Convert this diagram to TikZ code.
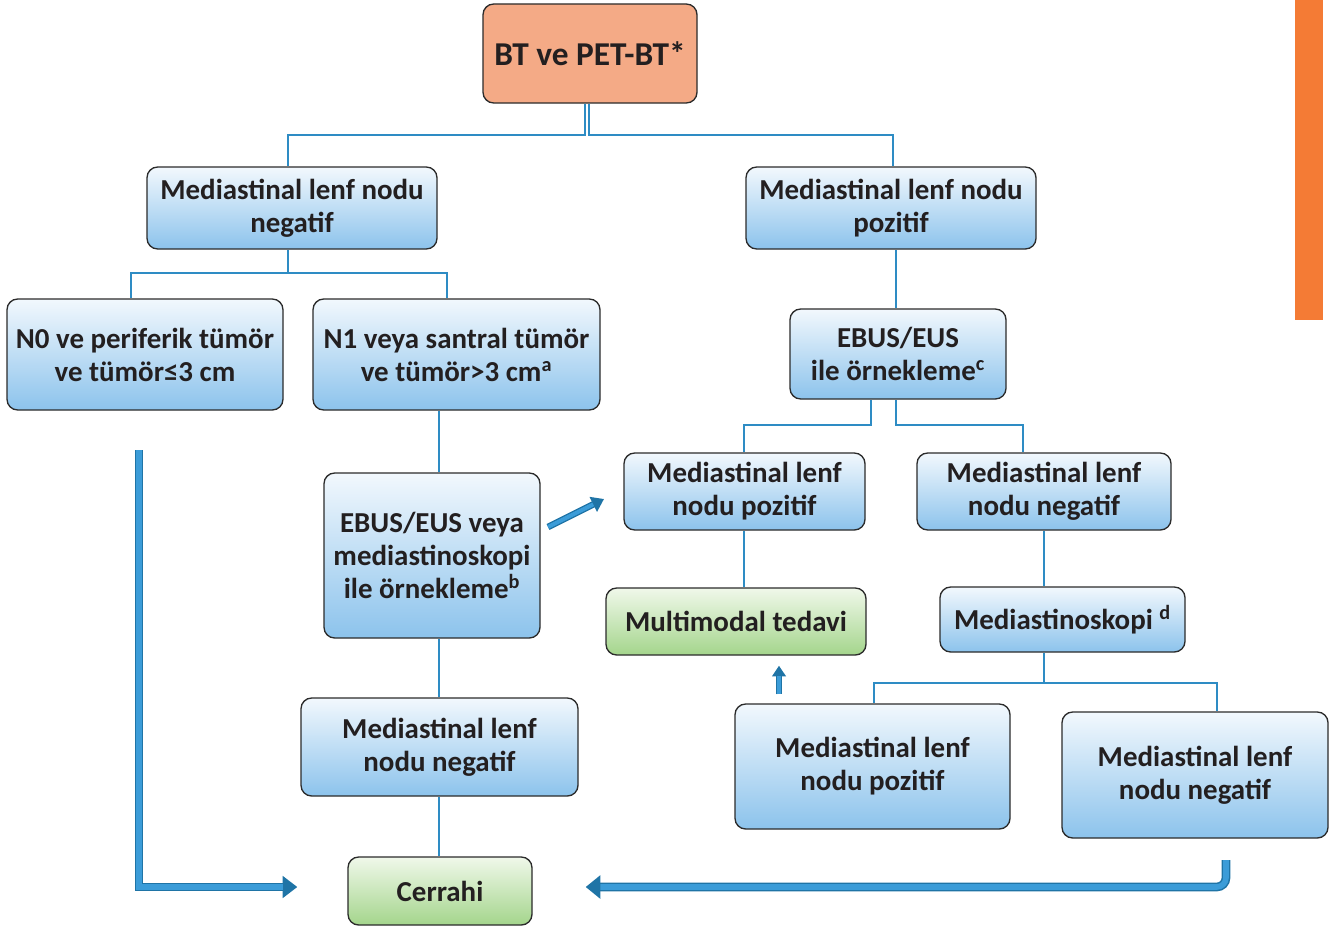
\documentclass[tikz,border=0pt]{standalone}
\usepackage{fontspec}
\setmainfont{Carlito}
\usetikzlibrary{arrows.meta,calc}
\definecolor{boxline}{HTML}{2B2B2B}
\definecolor{bluetop}{HTML}{F2F8FD}
\definecolor{bluebot}{HTML}{8CC3EC}
\definecolor{greentop}{HTML}{F0F8EA}
\definecolor{greenbot}{HTML}{A4D58C}
\definecolor{peach}{HTML}{F4AA86}
\definecolor{linkblue}{HTML}{2E8CC4}
\definecolor{fatdark}{HTML}{1F74A6}
\definecolor{fatlight}{HTML}{3B9CD8}
\definecolor{barorange}{HTML}{F47B35}
\definecolor{txt}{HTML}{231F20}
\tikzset{
  sz/.style 2 args={minimum width=#1*0.75pt, minimum height=#2*0.75pt},
  base/.style={draw=boxline, line width=1pt, rounded corners=8pt, inner sep=0pt,
    align=center, text=txt, font=\fontsize{21.7}{24.75}\selectfont\bfseries},
  bluebox/.style={base, top color=bluetop, bottom color=bluebot},
  greenbox/.style={base, top color=greentop, bottom color=greenbot},
  peachbox/.style={base, fill=peach, font=\fontsize{25}{28}\selectfont\bfseries},
  conn/.style={draw=linkblue, line width=1.5pt},
  fatinner/.style 2 args={draw=fatlight, line width=#1, -, shorten >=#2},
  fat/.style n args={4}{draw=fatdark, line width=#1, -{Triangle[width=#2,length=#3]},
    postaction={fatinner={#4}{#3}}},
}
\begin{document}
\begin{tikzpicture}[x=0.75pt,y=-0.75pt]
\useasboundingbox (0,0) rectangle (1338,931);

% side bar
\fill[barorange] (1295,0) rectangle (1323,320);

% boxes
\node[peachbox, sz={214}{99}] (top) at (590,53.5) {BT ve PET-BT*};
\node[bluebox, sz={290}{82}] (negL) at (292,208) {Mediastinal lenf nodu\\negatif};
\node[bluebox, sz={290}{82}] (posR) at (891,208) {Mediastinal lenf nodu\\pozitif};
\node[bluebox, sz={276}{111}] (n0) at (145,354.5) {N0 ve periferik tümör\\ve tümör≤3 cm};
\node[bluebox, sz={287}{111}] (n1) at (456.5,354.5) {N1 veya santral tümör\\ve tümör>3 cm\textsuperscript{a}};
\node[bluebox, sz={216}{165}] (ebusL) at (432,555.5) {EBUS/EUS veya\\mediastinoskopi\\ile örnekleme\textsuperscript{b}};
\node[bluebox, sz={277}{98}] (negL2) at (439.5,747) {Mediastinal lenf\\nodu negatif};
\node[greenbox, sz={184}{68}] (cerrahi) at (440,891) {Cerrahi};
\node[bluebox, sz={216}{90}] (ebusR) at (898,354) {EBUS/EUS\\ile örnekleme\textsuperscript{c}};
\node[bluebox, sz={241}{77}] (posM) at (744.5,491.5) {Mediastinal lenf\\nodu pozitif};
\node[bluebox, sz={254}{77}] (negM) at (1044,491.5) {Mediastinal lenf\\nodu negatif};
\node[greenbox, sz={260}{67}] (multi) at (736,621.5) {Multimodal tedavi};
\node[bluebox, sz={245}{65}] (medk) at (1062.5,619.5) {Mediastinoskopi \textsuperscript{d}};
\node[bluebox, sz={275}{125}] (posB) at (872.5,766.5) {Mediastinal lenf\\nodu pozitif};
\node[bluebox, sz={266}{126}] (negB) at (1195,775) {Mediastinal lenf\\nodu negatif};

% thin connectors
\draw[conn] ($(top.south)+(-5,0)$) -- ++(0,31) -| ($(negL.north)+(-4,0)$);
\draw[conn] ($(top.south)+(-1,0)$) -- ++(0,31) -| ($(posR.north)+(2,0)$);
\draw[conn] ($(negL.south)+(-4,0)$) -- ++(0,23) -| ($(n0.north)+(-14,0)$);
\draw[conn] ($(negL.south)+(-4,0)$) -- ++(0,23) -| ($(n1.north)+(-9.5,0)$);
\draw[conn] ($(n1.south)+(-17.5,0)$) -- ($(ebusL.north)+(7,0)$);
\draw[conn] ($(ebusL.south)+(7,0)$) -- ($(negL2.north)+(-0.5,0)$);
\draw[conn] ($(negL2.south)+(-0.5,0)$) -- ($(cerrahi.north)+(-1,0)$);
\draw[conn] ($(posR.south)+(5,0)$) -- ($(ebusR.north)+(-2,0)$);
\draw[conn] ($(ebusR.south)+(-27,0)$) -- ++(0,25) -| ($(posM.north)+(-0.5,0)$);
\draw[conn] ($(ebusR.south)+(-2,0)$) -- ++(0,25) -| ($(negM.north)+(-21,0)$);
\draw[conn] ($(posM.south)+(-0.5,0)$) -- ($(multi.north)+(8,0)$);
\draw[conn] (negM.south) -- ($(medk.north)+(-18.5,0)$);
\draw[conn] ($(medk.south)+(-18.5,0)$) -- ++(0,30) -| ($(posB.north)+(1.5,0)$);
\draw[conn] ($(medk.south)+(-18.5,0)$) -- ++(0,30) -| ($(negB.north)+(22,0)$);

% block arrows
\coordinate (leftstart) at (139,450);
\draw[fat={6.5pt}{16pt}{11pt}{4.2pt}] (leftstart) |- ($(cerrahi.west)+(-50,-4)$);
\coordinate (rightstart) at (1226,860);
\draw[fat={6.5pt}{17pt}{11pt}{4.2pt}, rounded corners=7pt] (rightstart) |- ($(cerrahi.east)+(53,-4)$);
\coordinate (diagstart) at (548,527);
\coordinate (diagend) at (604,499);
\draw[fat={5pt}{12pt}{9pt}{3pt}] (diagstart) -- (diagend);
\draw[fat={4.5pt}{10pt}{8pt}{2.5pt}] ($(posB.north)+(-93.5,-9)$) -- ($(multi.south)+(43,10)$);
\end{tikzpicture}
\end{document}
